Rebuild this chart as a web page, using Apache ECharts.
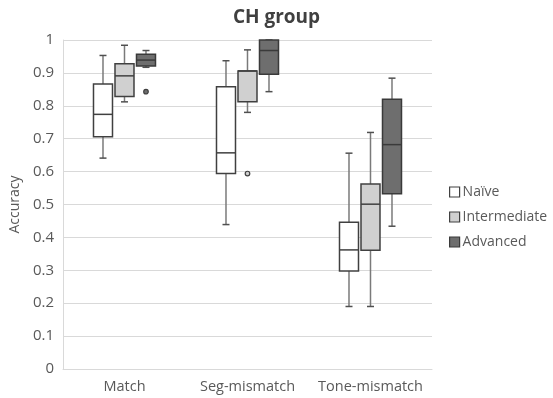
<!DOCTYPE html>
<html>
<head>
<meta charset="utf-8">
<script src="https://cdn.jsdelivr.net/npm/echarts@6/dist/echarts.min.js"></script>
<style>html,body{margin:0;padding:0;background:#fff;}#c{width:553px;height:398px;}</style>
</head>
<body>
<div id="c"></div>
<script>
const categories = ['Match', 'Seg-mismatch', 'Tone-mismatch'];
const groups = ['Naïve', 'Intermediate', 'Advanced'];
// [min, Q1, median, Q3, max] per category
const naive = [
  [0.641, 0.706, 0.774, 0.866, 0.953],
  [0.439, 0.594, 0.657, 0.858, 0.937],
  [0.190, 0.298, 0.362, 0.446, 0.656]
];
const intermediate = [
  [0.812, 0.828, 0.891, 0.928, 0.984],
  [0.780, 0.812, 0.906, 0.906, 0.970],
  [0.190, 0.361, 0.501, 0.562, 0.719]
];
const advanced = [
  [0.917, 0.921, 0.939, 0.957, 0.968],
  [0.843, 0.896, 0.968, 1.000, 1.000],
  [0.434, 0.533, 0.682, 0.820, 0.884]
];
// outliers: [categoryIndex, value]
const outlierIntermediate = [[1, 0.594]];
const outlierAdvanced = [[0, 0.843]];
const yTicks = [0, 0.1, 0.2, 0.3, 0.4, 0.5, 0.6, 0.7, 0.8, 0.9, 1];

const fills = ['#ffffff', '#d0d0d0', '#6e6e6e'];
const strokes = ['#404040', '#404040', '#3a3a3a'];
const BOX_W = 19, STEP = 21.5, CAP = 7;

function boxRender(params, api) {
  const s = params.seriesIndex;
  const off = (s - 1) * STEP;
  const cat = api.value(0);
  const pMin = api.coord([cat, api.value(1)]);
  const pQ1 = api.coord([cat, api.value(2)]);
  const pMed = api.coord([cat, api.value(3)]);
  const pQ3 = api.coord([cat, api.value(4)]);
  const pMax = api.coord([cat, api.value(5)]);
  const x = pMin[0] + off;
  const hw = BOX_W / 2;
  const wStyle = { stroke: '#7a7a7a', lineWidth: 1.5 };
  const bStyle = { stroke: strokes[s], lineWidth: 1.5 };
  return {
    type: 'group',
    children: [
      { type: 'line', shape: { x1: x, y1: pQ3[1], x2: x, y2: pMax[1] }, style: wStyle },
      { type: 'line', shape: { x1: x, y1: pQ1[1], x2: x, y2: pMin[1] }, style: wStyle },
      { type: 'line', shape: { x1: x - CAP / 2, y1: pMax[1], x2: x + CAP / 2, y2: pMax[1] }, style: { stroke: '#505050', lineWidth: 1.5 } },
      { type: 'line', shape: { x1: x - CAP / 2, y1: pMin[1], x2: x + CAP / 2, y2: pMin[1] }, style: { stroke: '#505050', lineWidth: 1.5 } },
      { type: 'rect', shape: { x: x - hw, y: pQ3[1], width: BOX_W, height: pQ1[1] - pQ3[1] }, style: { fill: fills[s], stroke: strokes[s], lineWidth: 1.5 } },
      { type: 'line', shape: { x1: x - hw, y1: pMed[1], x2: x + hw, y2: pMed[1] }, style: bStyle }
    ]
  };
}

function outlierRender(s) {
  return function (params, api) {
    const off = (s - 1) * STEP;
    const p = api.coord([api.value(0), api.value(1)]);
    return {
      type: 'circle',
      shape: { cx: p[0] + off, cy: p[1], r: 2.3 },
      style: { fill: fills[s], stroke: '#404040', lineWidth: 1.2 }
    };
  };
}

const seriesData = [naive, intermediate, advanced];
const series = seriesData.map((arr, s) => ({
  name: groups[s],
  type: 'custom',
  renderItem: boxRender,
  encode: { x: 0, y: [1, 2, 3, 4, 5] },
  itemStyle: { color: fills[s], borderColor: strokes[s], borderWidth: 1.2 },
  data: arr.map((v, i) => [i].concat(v)),
  z: 3
}));
series.push({
  name: groups[1], type: 'custom', renderItem: outlierRender(1),
  encode: { x: 0, y: 1 }, data: outlierIntermediate, z: 4,
  itemStyle: { color: fills[1], borderColor: strokes[1] }
});
series.push({
  name: groups[2], type: 'custom', renderItem: outlierRender(2),
  encode: { x: 0, y: 1 }, data: outlierAdvanced, z: 4,
  itemStyle: { color: fills[2], borderColor: strokes[2] }
});

const FONT = 'Open Sans';
const chart = echarts.init(document.getElementById('c'), null, { renderer: 'canvas' });
chart.setOption({
  animation: false,
  backgroundColor: '#ffffff',
  title: {
    text: 'CH group', left: 'center', top: 3,
    textStyle: { fontFamily: FONT, fontSize: 19, fontWeight: 'bold', color: '#404040' }
  },
  legend: {
    orient: 'vertical', left: 444, top: 180,
    itemWidth: 10, itemHeight: 10, itemGap: 11,
    icon: 'rect',
    data: groups.map((g, i) => ({ name: g, itemStyle: { color: fills[i], borderColor: strokes[i], borderWidth: 1.2 } })),
    textStyle: { fontFamily: FONT, fontSize: 14, color: '#595959', padding: [0, 0, 0, -2] }
  },
  grid: { left: 61, right: 121, top: 40, bottom: 29 },
  xAxis: {
    type: 'category',
    data: categories,
    axisLine: { show: true, lineStyle: { color: '#d9d9d9', width: 1 } },
    axisTick: { show: false },
    axisLabel: { interval: 0, fontFamily: FONT, fontSize: 14.5, color: '#595959', margin: 10 },
    splitLine: { show: false }
  },
  yAxis: {
    type: 'value', min: 0, max: 1, interval: 0.1,
    name: 'Accuracy', nameLocation: 'middle', nameGap: 40, nameRotate: 90,
    nameTextStyle: { fontFamily: FONT, fontSize: 14, color: '#595959' },
    axisLine: { show: true, lineStyle: { color: '#d9d9d9', width: 1 } },
    axisTick: { show: false },
    axisLabel: {
      fontFamily: FONT, fontSize: 15, color: '#595959', margin: 9,
      formatter: function (v) {
        const t = yTicks.find(tk => Math.abs(tk - v) < 1e-6);
        return t === undefined ? '' : String(t);
      }
    },
    splitLine: { show: true, lineStyle: { color: '#d9d9d9', width: 1 } }
  },
  series: series
});
</script>
</body>
</html>
